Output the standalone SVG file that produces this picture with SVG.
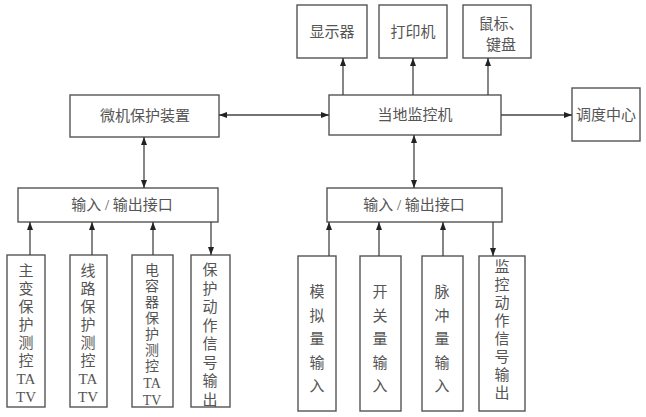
<svg xmlns="http://www.w3.org/2000/svg" width="646" height="417" viewBox="0 0 646 417">
<style>
rect{fill:#fff;stroke:#555;stroke-width:1.4}
text{font-family:"Liberation Serif","Noto Sans CJK SC",serif;font-size:15px;fill:#555;text-anchor:middle;dominant-baseline:central}
.s{font-size:14px}
.c line{stroke:#444;stroke-width:1.3}
</style>
<defs>
<marker id="ah" markerUnits="userSpaceOnUse" markerWidth="8" markerHeight="6" refX="8" refY="3" orient="auto-start-reverse">
<path d="M0,0 L8,3 L0,6 z" fill="#222"/>
</marker>
</defs>
<rect width="646" height="417" style="fill:#fff;stroke:none"/>
<g id="display"><rect x="297" y="5" width="70" height="53"/><text x="332" y="32">显示器</text></g>
<g id="printer"><rect x="379" y="5" width="68" height="53"/><text x="413" y="32">打印机</text></g>
<g id="mouse"><rect x="463" y="5" width="68" height="53"/><text x="501" y="24">鼠标、</text><text x="501" y="45">键盘</text></g>
<g id="protect"><rect x="70" y="95" width="149" height="42"/><text x="145" y="116">微机保护装置</text></g>
<g id="monitor"><rect x="329" y="95" width="172" height="40"/><text x="415" y="115">当地监控机</text></g>
<g id="dispatch"><rect x="572" y="88" width="68" height="53"/><text x="606" y="115">调度中心</text></g>
<g id="io-left"><rect x="18" y="188" width="200" height="34"/><text x="122" y="205">输入 / 输出接口</text></g>
<g id="io-right"><rect x="327" y="188" width="175" height="34"/><text x="414" y="205">输入 / 输出接口</text></g>
<g id="l1"><rect x="7" y="255" width="38" height="152"/>
<text><tspan x="26" y="271">主</tspan><tspan x="26" y="289">变</tspan><tspan x="26" y="307">保</tspan><tspan x="26" y="325">护</tspan><tspan x="26" y="343">测</tspan><tspan x="26" y="361">控</tspan><tspan x="26" y="379">TA</tspan><tspan x="26" y="397">TV</tspan></text></g>
<g id="l2"><rect x="70" y="255" width="37" height="152"/>
<text><tspan x="88" y="271">线</tspan><tspan x="88" y="289">路</tspan><tspan x="88" y="307">保</tspan><tspan x="88" y="325">护</tspan><tspan x="88" y="343">测</tspan><tspan x="88" y="361">控</tspan><tspan x="88" y="379">TA</tspan><tspan x="88" y="397">TV</tspan></text></g>
<g id="l3"><rect x="132" y="255" width="41" height="152"/>
<text class="s"><tspan x="152" y="270">电</tspan><tspan x="152" y="286">容</tspan><tspan x="152" y="302">器</tspan><tspan x="152" y="318">保</tspan><tspan x="152" y="334">护</tspan><tspan x="152" y="350">测</tspan><tspan x="152" y="366">控</tspan><tspan x="152" y="383">TA</tspan><tspan x="152" y="400">TV</tspan></text></g>
<g id="l4"><rect x="191" y="255" width="39" height="152"/>
<text><tspan x="210" y="270">保</tspan><tspan x="210" y="288.5">护</tspan><tspan x="210" y="307">动</tspan><tspan x="210" y="325.5">作</tspan><tspan x="210" y="344">信</tspan><tspan x="210" y="362.5">号</tspan><tspan x="210" y="381">输</tspan><tspan x="210" y="399.5">出</tspan></text></g>
<g id="r1"><rect x="298" y="256" width="38" height="155"/>
<text><tspan x="317" y="292">模</tspan><tspan x="317" y="315.5">拟</tspan><tspan x="317" y="339">量</tspan><tspan x="317" y="362.5">输</tspan><tspan x="317" y="386">入</tspan></text></g>
<g id="r2"><rect x="360" y="256" width="41" height="155"/>
<text><tspan x="380" y="292">开</tspan><tspan x="380" y="315.5">关</tspan><tspan x="380" y="339">量</tspan><tspan x="380" y="362.5">输</tspan><tspan x="380" y="386">入</tspan></text></g>
<g id="r3"><rect x="422" y="256" width="41" height="155"/>
<text><tspan x="442" y="292">脉</tspan><tspan x="442" y="315.5">冲</tspan><tspan x="442" y="339">量</tspan><tspan x="442" y="362.5">输</tspan><tspan x="442" y="386">入</tspan></text></g>
<g id="r4"><rect x="479" y="256" width="46" height="155"/>
<text><tspan x="502" y="267">监</tspan><tspan x="502" y="285">控</tspan><tspan x="502" y="303">动</tspan><tspan x="502" y="321">作</tspan><tspan x="502" y="339">信</tspan><tspan x="502" y="357">号</tspan><tspan x="502" y="375">输</tspan><tspan x="502" y="393">出</tspan></text></g>
<g class="c" id="connectors">
<line x1="343" y1="95" x2="343" y2="58" marker-end="url(#ah)"/>
<line x1="413" y1="95" x2="413" y2="58" marker-end="url(#ah)"/>
<line x1="488" y1="95" x2="488" y2="58" marker-end="url(#ah)"/>
<line x1="219" y1="115" x2="329" y2="115" marker-start="url(#ah)" marker-end="url(#ah)"/>
<line x1="501" y1="115" x2="572" y2="115" marker-end="url(#ah)"/>
<line x1="144" y1="137" x2="144" y2="188" marker-start="url(#ah)" marker-end="url(#ah)"/>
<line x1="414" y1="135" x2="414" y2="188" marker-start="url(#ah)" marker-end="url(#ah)"/>
<line x1="30" y1="255" x2="30" y2="222" marker-end="url(#ah)"/>
<line x1="92" y1="255" x2="92" y2="222" marker-end="url(#ah)"/>
<line x1="153" y1="255" x2="153" y2="222" marker-end="url(#ah)"/>
<line x1="211" y1="222" x2="211" y2="255" marker-end="url(#ah)"/>
<line x1="329" y1="256" x2="329" y2="222" marker-end="url(#ah)"/>
<line x1="379" y1="256" x2="379" y2="222" marker-end="url(#ah)"/>
<line x1="443" y1="256" x2="443" y2="222" marker-end="url(#ah)"/>
<line x1="493" y1="222" x2="493" y2="256" marker-end="url(#ah)"/>
</g>
</svg>
